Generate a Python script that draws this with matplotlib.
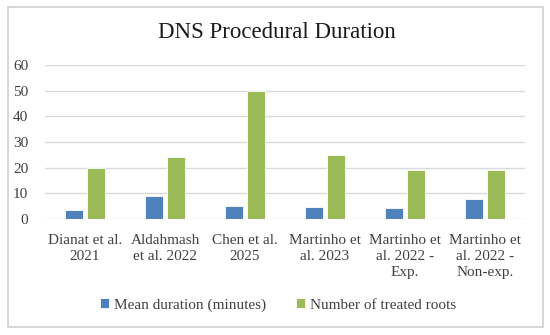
import numpy as np
import matplotlib
matplotlib.use("Agg")
import matplotlib.pyplot as plt
from matplotlib.patches import Rectangle

# data
studies = ["Dianat et al.\n2021", "Aldahmash\net al. 2022", "Chen et al.\n2025",
           "Martinho et\nal. 2023", "Martinho et\nal. 2022 -\nExp.",
           "Martinho et\nal. 2022 -\nNon-exp."]
mean_duration = [3.5, 9.1, 5.0, 4.7, 4.4, 7.7]
treated_roots = [20, 24, 50, 25, 19, 19]
y_ticks = [0, 10, 20, 30, 40, 50, 60]

BLUE = "#4F81BD"
GREEN = "#9BBB59"
TEXT = "#404040"

plt.rcParams["font.family"] = ["Liberation Serif", "DejaVu Serif"]

fig = plt.figure(figsize=(5.5, 3.35), dpi=100)
# outer chart border
fig.patches.append(Rectangle((8 / 550, 1 - 327 / 335), 535 / 550, 320 / 335,
                             transform=fig.transFigure, fill=False,
                             edgecolor="#D0D0D0", linewidth=1.2))

ax = fig.add_axes([45 / 550, 1 - 219 / 335, 480 / 550, 154 / 335])

x = np.arange(len(studies))
w = 0.225
ax.bar(x - w / 2 - 0.03, mean_duration, w, color=BLUE, edgecolor="white",
       linewidth=0.6, label="Mean duration (minutes)", zorder=3)
ax.bar(x + w / 2 + 0.03, treated_roots, w, color=GREEN, edgecolor="white",
       linewidth=0.6, label="Number of treated roots", zorder=3)

ax.set_xlim(-0.5, len(studies) - 0.5)
ax.set_ylim(0, 60)
ax.set_yticks(y_ticks)
ax.yaxis.grid(True, color="#D9D9D9", linewidth=1.0, zorder=0)
for s in ax.spines.values():
    s.set_visible(False)
ax.tick_params(axis="both", length=0, colors=TEXT, labelsize=11)
ax.tick_params(axis="y", pad=12)
ax.set_xticks(x)
ax.set_xticklabels(studies, linespacing=1.3, va="top")
ax.tick_params(axis="x", pad=11)

fig.text(277 / 550, 1 - 33 / 335, "DNS Procedural Duration", ha="center",
         va="center", fontsize=16.5, color="#1A1A1A")

fig.legend(loc="center", bbox_to_anchor=(278 / 550, 1 - 305 / 335), ncol=2,
           frameon=False, fontsize=11, handlelength=0.6, handleheight=0.6,
           handletextpad=0.3, columnspacing=2.0, labelcolor=TEXT)

fig.savefig("out.png", dpi=100)
